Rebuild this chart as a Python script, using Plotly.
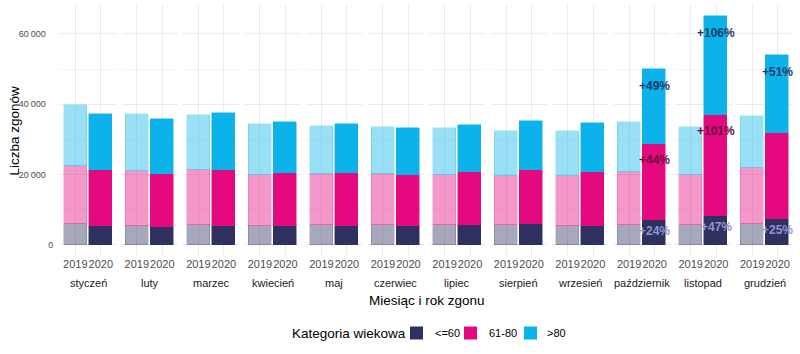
import plotly.graph_objects as go
from plotly.subplots import make_subplots

months = ["styczeń", "luty", "marzec", "kwiecień", "maj", "czerwiec", "lipiec",
          "sierpień", "wrzesień", "październik", "listopad", "grudzień"]
years = ["2019", "2020"]
categories = ["<=60", "61-80", ">80"]

# deaths per month by age group
y2019_le60 = [6000, 5200, 5500, 5300, 5500, 5500, 5500, 5500, 5300, 5600, 5500, 5900]
y2019_61_80 = [16450, 15750, 15650, 14500, 14600, 14500, 14300, 14000, 14100, 15050, 14400, 16000]
y2019_gt80 = [17250, 16150, 15700, 14500, 13800, 13600, 13500, 12950, 12900, 14200, 13600, 14650]

y2020_le60 = [5400, 4950, 5300, 5200, 5400, 5250, 5600, 5800, 5400, 6950, 8100, 7400]
y2020_61_80 = [15850, 15150, 16000, 15150, 14950, 14450, 14950, 15450, 15250, 21800, 28850, 24300]
y2020_gt80 = [15950, 15800, 16200, 14500, 14050, 13450, 13650, 14050, 14100, 21250, 28050, 22200]

# labels of change 2020 vs 2019 (month index -> text)
lab_le60 = {9: "+24%", 10: "+47%", 11: "+25%"}
lab_61_80 = {9: "+44%", 10: "+101%"}
lab_gt80 = {9: "+49%", 10: "+106%", 11: "+51%"}

y_ticks = [0, 20000, 40000, 60000]
NB = "\u00a0"
y_ticktext = ["0", "20\u2009000" + NB * 3, "40\u2009000" + NB * 3, "60\u2009000" + NB * 3]

colors = {"<=60": (46, 48, 96), "61-80": (229, 9, 127), ">80": (11, 179, 234)}
label_colors = {"<=60": "#9393d6", "61-80": "#6e0a3e", ">80": "#1b3a6b"}
alpha_2019 = 0.42

FONT = "Liberation Sans, Arial, sans-serif"

# plot-area geometry in pixels (for converting legend / label placement)
W, H = 800, 354
ML, MR, MT, MB = 60, 7, 5, 98
PW, PH = W - ML - MR, H - MT - MB


def px_x(px):
    return (px - ML) / PW


def px_y(py):
    return (H - MB - py) / PH


def rgba(c, a):
    return "rgba(%d,%d,%d,%.3f)" % (c[0], c[1], c[2], a)


fig = make_subplots(rows=1, cols=12, shared_yaxes=True, horizontal_spacing=0.0074)

data19 = {"<=60": y2019_le60, "61-80": y2019_61_80, ">80": y2019_gt80}
data20 = {"<=60": y2020_le60, "61-80": y2020_61_80, ">80": y2020_gt80}

for i, m in enumerate(months):
    col = i + 1
    for cat in categories:
        c = colors[cat]
        fig.add_trace(go.Bar(
            x=[years[0]], y=[data19[cat][i]], width=0.9,
            marker=dict(color=rgba(c, alpha_2019), line=dict(color=rgba(c, 0.25), width=0.8)),
            showlegend=False, legendgroup=cat, name=cat, hoverinfo="skip"),
            row=1, col=col)
        fig.add_trace(go.Bar(
            x=[years[1]], y=[data20[cat][i]], width=0.9,
            marker=dict(color=rgba(c, 1.0), line=dict(color=rgba(c, 0.6), width=0.8)),
            showlegend=False, legendgroup=cat, name=cat, hoverinfo="skip"),
            row=1, col=col)

fig.update_layout(barmode="stack")

for i in range(12):
    fig.update_xaxes(
        type="category", categoryorder="array", categoryarray=years,
        range=[-0.6, 1.6], showgrid=True, gridcolor="#EBEBEB", gridwidth=1,
        ticks="", zeroline=False, showline=False, tickangle=0,
        tickfont=dict(family=FONT, size=11, color="#4D4D4D"),
        row=1, col=i + 1)

fig.update_yaxes(
    range=[-3250, 68250], tickvals=y_ticks, ticktext=y_ticktext,
    showgrid=True, gridcolor="#EBEBEB", gridwidth=1, zeroline=False,
    minor=dict(dtick=10000, tick0=0, showgrid=True, gridcolor="#F4F4F4", gridwidth=1),
    ticks="outside", ticklen=4, tickcolor="rgba(0,0,0,0)",
    tickfont=dict(family=FONT, size=9, color="#4D4D4D"))

annotations = []
shapes = []
# month labels (facet strips at the bottom)
for i, m in enumerate(months):
    sfx = "" if i == 0 else str(i + 1)
    annotations.append(dict(
        text=m, xref="x%s domain" % sfx, x=0.5, yref="paper", y=px_y(283),
        xanchor="center", yanchor="middle", showarrow=False,
        font=dict(family=FONT, size=11, color="#1A1A1A")))


def add_labels(lab, cat, offset_px):
    for i, txt in lab.items():
        sfx = "" if i == 0 else str(i + 1)
        top = 0
        for c in categories:
            top += data20[c][i]
            if c == cat:
                break
        annotations.append(dict(
            text="<b>%s</b>" % txt, xref="x%s" % sfx, x=years.index("2020"),
            yref="y%s" % sfx, y=top, yshift=-offset_px,
            xanchor="center", yanchor="middle", showarrow=False,
            font=dict(family=FONT, size=12, color=label_colors[cat])))


add_labels(lab_gt80, ">80", 16.5)
add_labels(lab_61_80, "61-80", 16.5)
add_labels(lab_le60, "<=60", 11)

annotations.append(dict(
    text="Miesiąc i rok zgonu", xref="paper", x=0.5, yref="paper", y=px_y(300),
    xanchor="center", yanchor="middle", showarrow=False,
    font=dict(family=FONT, size=13.5, color="#000000")))
annotations.append(dict(
    text="Liczba zgonów", xref="paper", x=px_x(14), yref="paper", y=0.5,
    xanchor="center", yanchor="middle", textangle=-90, showarrow=False,
    font=dict(family=FONT, size=13.5, color="#000000")))

# legend (drawn manually to match spacing)
leg_y = 333
annotations.append(dict(
    text="Kategoria wiekowa", xref="paper", x=px_x(290), yref="paper", y=px_y(leg_y),
    xanchor="left", yanchor="middle", showarrow=False,
    font=dict(family=FONT, size=13.5, color="#000000")))
leg_swatch_left = [410, 464, 524]
leg_text_left = [433, 487, 545]
for cat, sx, tx in zip(categories, leg_swatch_left, leg_text_left):
    shapes.append(dict(
        type="rect", xref="paper", yref="paper",
        x0=px_x(sx), x1=px_x(sx + 13), y0=px_y(leg_y - 6.5), y1=px_y(leg_y + 6.5),
        fillcolor=rgba(colors[cat], 1.0), line=dict(width=0)))
    annotations.append(dict(
        text=cat, xref="paper", x=px_x(tx), yref="paper", y=px_y(leg_y),
        xanchor="left", yanchor="middle", showarrow=False,
        font=dict(family=FONT, size=11, color="#000000")))

fig.update_layout(
    width=W, height=H,
    margin=dict(l=ML, r=MR, t=MT, b=MB, autoexpand=False),
    paper_bgcolor="white", plot_bgcolor="white",
    bargap=0, annotations=annotations, shapes=shapes,
    font=dict(family=FONT), showlegend=False,
)

fig.write_html("out.html")
